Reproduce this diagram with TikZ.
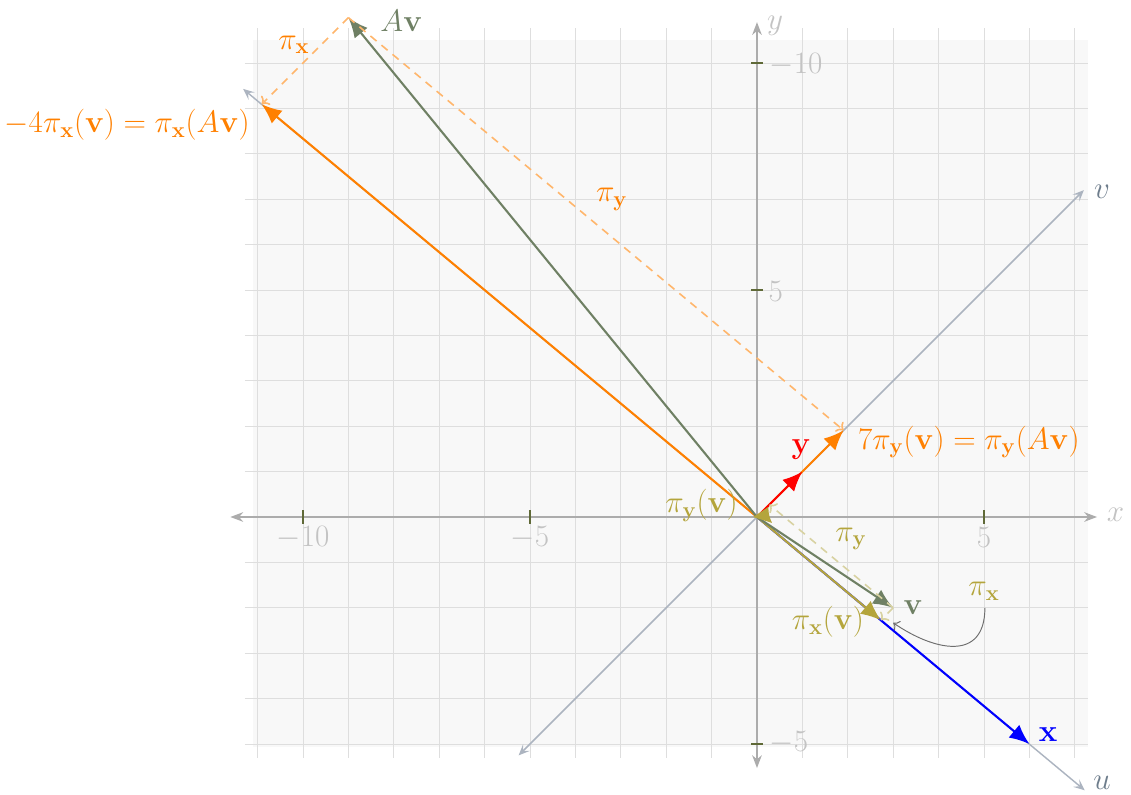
\RequirePackage{fix-cm}
\documentclass[tikz,border=0pt]{standalone}
\usetikzlibrary{arrows.meta}
\definecolor{bgc}{RGB}{248,248,248}
\definecolor{gridc}{RGB}{222,222,222}
\definecolor{axisc}{RGB}{172,172,172}
\definecolor{tickc}{RGB}{95,105,55}
\definecolor{ticklab}{RGB}{195,195,195}
\definecolor{uvc}{RGB}{172,180,192}
\definecolor{uvlab}{RGB}{110,125,140}
\definecolor{avc}{RGB}{111,128,100}
\definecolor{orc}{RGB}{255,128,0}
\definecolor{lorc}{RGB}{255,182,108}
\definecolor{olc}{RGB}{180,165,60}
\definecolor{lolc}{RGB}{216,210,162}
\definecolor{curvc}{RGB}{110,110,110}
\begin{document}
\begin{tikzpicture}[x=1cm,y=1cm,
  every node/.style={font=\fontsize{19.5}{23}\selectfont, inner sep=0pt},
  vec/.style={line width=1.3pt,-{Latex[length=12.5pt,width=10.5pt]}},
  projline/.style={line width=1pt,dash pattern=on 5pt off 4pt,-{To[length=4pt,width=8pt]}},
  axisline/.style={draw=axisc,line width=1.1pt,{Stealth[length=8pt,width=6pt,inset=2.5pt]}-{Stealth[length=8pt,width=6pt,inset=2.5pt]}},
  uvline/.style={draw=uvc,line width=0.9pt,{Stealth[length=7pt,width=6pt,inset=3pt]}-{Stealth[length=7pt,width=6pt,inset=3pt]}},
  tickmark/.style={draw=tickc,line width=0.8pt},
  ticklabel/.style={text=ticklab},
  curvearrow/.style={draw=curvc,line width=0.6pt,-{To[length=3.5pt,width=7pt]}},
]
\useasboundingbox (-16.674,-6.123) rectangle (8.238,11.388);
% background and grid
\fill[bgc] (-11.1,-5.07) rectangle (7.29,10.5);
\draw[gridc,line width=0.6pt] (-11.28,-5.3) grid (7.3,10.78);
% coordinates
\coordinate (O) at (0,0);
\coordinate (xl) at (-11.6,0);
\coordinate (xr) at (7.49,0);
\coordinate (yb) at (0,-5.53);
\coordinate (yt) at (0,10.9);
\coordinate (ua) at (-11.32,9.43);
\coordinate (ub) at (7.22,-6.02);
\coordinate (va) at (-5.25,-5.25);
\coordinate (vb) at (7.2,7.2);
\coordinate (X) at (6,-5);
\coordinate (Y) at (1,1);
\coordinate (V) at (3,-2);
\coordinate (AV) at (-9,11);
\coordinate (PXV) at (2.7273,-2.2727);
\coordinate (PYV) at (0.2727,0.2727);
\coordinate (NPX) at (-10.9091,9.0909);
\coordinate (SPY) at (1.9091,1.9091);
\coordinate (pyt) at (-0.08,0.0);
\coordinate (pyu) at (0.25,0.22);
\coordinate (pyl) at (0.33,-0.13);
\coordinate (pym) at (0.26,0.04);
\coordinate (cstart) at (5.02,-2.0);
\coordinate (cend) at (3.0,-2.33);
% axes
\draw[axisline] (xl) -- (xr);
\draw[axisline] (yb) -- (yt);
\draw[uvline] (ua) -- (ub);
\draw[uvline] (va) -- (vb);
% ticks
\foreach \t/\n in {-10/a,-5/b,5/c}{
  \coordinate (tx\n1) at (\t,-0.15);
  \coordinate (tx\n2) at (\t,0.15);
  \draw[tickmark] (tx\n1) -- (tx\n2);
}
\foreach \t/\n in {10/a,5/b,-5/c}{
  \coordinate (ty\n1) at (-0.13,\t);
  \coordinate (ty\n2) at (0.13,\t);
  \draw[tickmark] (ty\n1) -- (ty\n2);
}
\node[ticklabel] (tlx1) at (-10,-0.46) {$-10$};
\node[ticklabel] (tlx2) at (-5,-0.46) {$-5$};
\node[ticklabel] (tlx3) at (5,-0.46) {$5$};
\node[ticklabel,anchor=west] (tly1) at (0.27,9.96) {$-10$};
\node[ticklabel,anchor=west] (tly2) at (0.25,4.96) {$5$};
\node[ticklabel,anchor=west] (tly3) at (0.27,-4.98) {$-5$};
\node[text=ticklab] (xlab) at (7.9,0.04) {$x$};
\node[text=ticklab] (ylab) at (0.4,10.81) {$y$};
\node[text=uvlab] (ulab) at (7.6,-5.85) {$u$};
\node[text=uvlab] (vlab) at (7.6,7.16) {$v$};
% vectors
\draw[vec,orc] (O) -- (NPX);
\draw[vec,avc] (O) -- (AV);
\draw[projline,lorc] (AV) -- (NPX);
\draw[projline,lorc] (AV) -- (SPY);
\draw[vec,orc] (O) -- (SPY);
\draw[vec,red] (O) -- (Y);
\draw[vec,blue] (O) -- (X);
\draw[vec,olc] (O) -- (PXV);
\draw[vec,avc] (O) -- (V);
\draw[projline,lolc] (V) -- (PYV);
\draw[projline,lolc] (V) -- (PXV);
\fill[olc] (pyt) -- (pyu) .. controls (pym) .. (pyl) -- cycle;
\draw[curvearrow] (cstart) .. controls (5.02,-3.2) and (3.9,-2.95) .. (cend);
% labels
\node[text=avc,anchor=west] (lAv) at (-8.3,10.92) {$A\mathbf{v}$};
\node[text=orc] (lpx1) at (-10.2,10.4) {$\pi_{\mathbf{x}}$};
\node[text=orc,anchor=east] (lneg) at (-11.17,8.63) {$-4\pi_{\mathbf{x}}(\mathbf{v})=\pi_{\mathbf{x}}(A\mathbf{v})$};
\node[text=orc] (lpy1) at (-3.2,7.0) {$\pi_{\mathbf{y}}$};
\node[text=orc,anchor=west] (lseven) at (2.22,1.65) {$7\pi_{\mathbf{y}}(\mathbf{v})=\pi_{\mathbf{y}}(A\mathbf{v})$};
\node[text=red] (ly) at (0.97,1.48) {$\mathbf{y}$};
\node[text=avc] (lv) at (3.44,-2.0) {$\mathbf{v}$};
\node[text=olc] (lpx2) at (5.0,-1.63) {$\pi_{\mathbf{x}}$};
\node[text=blue] (lx) at (6.41,-4.8) {$\mathbf{x}$};
\node[text=olc,anchor=east] (lpyv) at (-0.42,0.26) {$\pi_{\mathbf{y}}(\mathbf{v})$};
\node[text=olc] (lpxv) at (1.56,-2.31) {$\pi_{\mathbf{x}}(\mathbf{v})$};
\node[text=olc] (lpy2) at (2.07,-0.48) {$\pi_{\mathbf{y}}$};
\end{tikzpicture}
\end{document}
